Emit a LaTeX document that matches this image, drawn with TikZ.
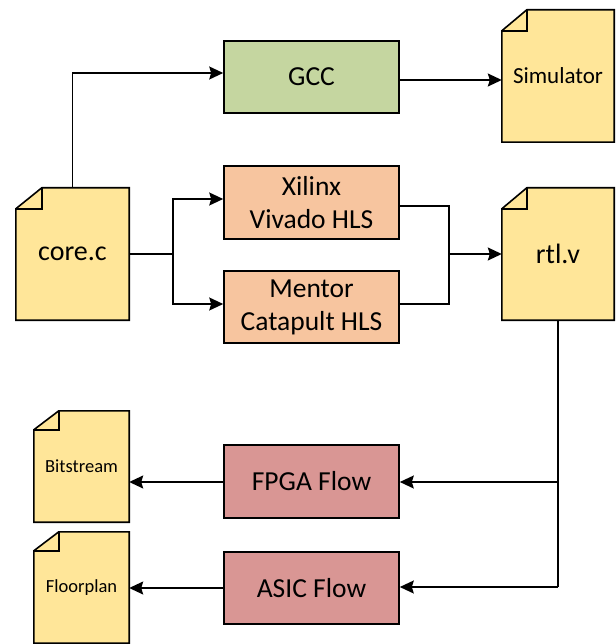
\documentclass[tikz,border=0pt]{standalone}
\usepackage{fontspec}
\setmainfont{Carlito}
\usetikzlibrary{arrows.meta,backgrounds}
\definecolor{docfill}{HTML}{FFE699}
\definecolor{gccfill}{HTML}{C5D6A0}
\definecolor{hlsfill}{HTML}{F7C59F}
\definecolor{flowfill}{HTML}{D99694}
\tikzset{
  ln/.style={line width=1.6pt, line join=miter},
  arr/.style={ln, -{Stealth[length=14pt,width=13pt,inset=2pt]}},
  proc/.style={draw, ln, minimum width=175pt, align=center, inner sep=0pt, font=\fontsize{27.5}{33}\selectfont},
  docn/.style={inner sep=0pt, align=center},
  bigdoc/.style={docn, minimum width=112pt, minimum height=132pt, font=\fontsize{28}{33}\selectfont},
  smalldoc/.style={docn, minimum width=95pt, minimum height=111pt, font=\fontsize{18.5}{22}\selectfont},
}
\begin{document}
\begin{tikzpicture}[x=1pt,y=-1pt]
\useasboundingbox (0,0) rectangle (615,644);
% documents
\node[bigdoc, minimum width=113pt] (core) at (72.5,254) {core.c};
\node[bigdoc, font=\fontsize{23}{27}\selectfont] (sim) at (558,76) {Simulator};
\node[bigdoc] (rtl) at (558,254) {rtl.v};
\node[smalldoc] (bit) at (81.5,466.5) {Bitstream};
\node[smalldoc] (floor) at (81.5,587.5) {Floorplan};
% process boxes
\node[proc, fill=gccfill, minimum height=72pt] (gcc) at (311.5,77) {GCC};
\node[proc, fill=hlsfill, minimum height=73pt] (xil) at (311.5,202.5) {Xilinx\\Vivado HLS};
\node[proc, fill=hlsfill, minimum height=72pt] (men) at (311.5,307) {Mentor\\Catapult HLS};
\node[proc, fill=flowfill, minimum height=73pt] (fpga) at (311.5,481.5) {FPGA Flow};
\node[proc, fill=flowfill, minimum height=72pt] (asic) at (311.5,588) {ASIC Flow};
% document outlines
\begin{scope}[on background layer]
\foreach \n/\fw/\fh in {core/26/21, sim/25/21, rtl/25/21, bit/25/19, floor/25/19}{
  \filldraw[ln, fill=docfill] (\n.south west) -- (\n.south east) -- (\n.north east)
    -- ([xshift=\fw pt]\n.north west) -- ([yshift=-\fh pt]\n.north west) -- cycle;
  \draw[ln] ([xshift=\fw pt]\n.north west) -- ([xshift=\fw pt, yshift=-\fh pt]\n.north west)
    -- ([yshift=-\fh pt]\n.north west);
}
\end{scope}
% connectors
\coordinate (fork) at (173,254);
\coordinate (merge) at (449,254);
\coordinate (down) at (558,587);
\draw[arr] (core.north) |- ([yshift=4pt]gcc.west);
\draw[arr] ([yshift=-3pt]gcc.east) -- ([yshift=-3pt]gcc.east -| sim.west);
\draw[ln] (core.east) -- (fork);
\draw[arr] (fork) |- ([yshift=3.5pt]xil.west);
\draw[arr] (fork) |- ([yshift=3pt]men.west);
\draw[ln] ([yshift=-3.5pt]xil.east) -| (merge);
\draw[ln] ([yshift=3pt]men.east) -| (merge);
\draw[arr] (merge) -- (rtl.west);
\draw[ln] (rtl.south) -- (down);
\draw[arr] ([yshift=-0.5pt]down |- fpga.east) -- ([yshift=-0.5pt]fpga.east);
\draw[arr] (down) -- ([yshift=1pt]asic.east);
\draw[arr] ([yshift=-0.5pt]fpga.west) -- ([yshift=-0.5pt]fpga.west -| bit.east);
\draw[arr] (asic.west) -- (asic.west -| floor.east);
\end{tikzpicture}
\end{document}
